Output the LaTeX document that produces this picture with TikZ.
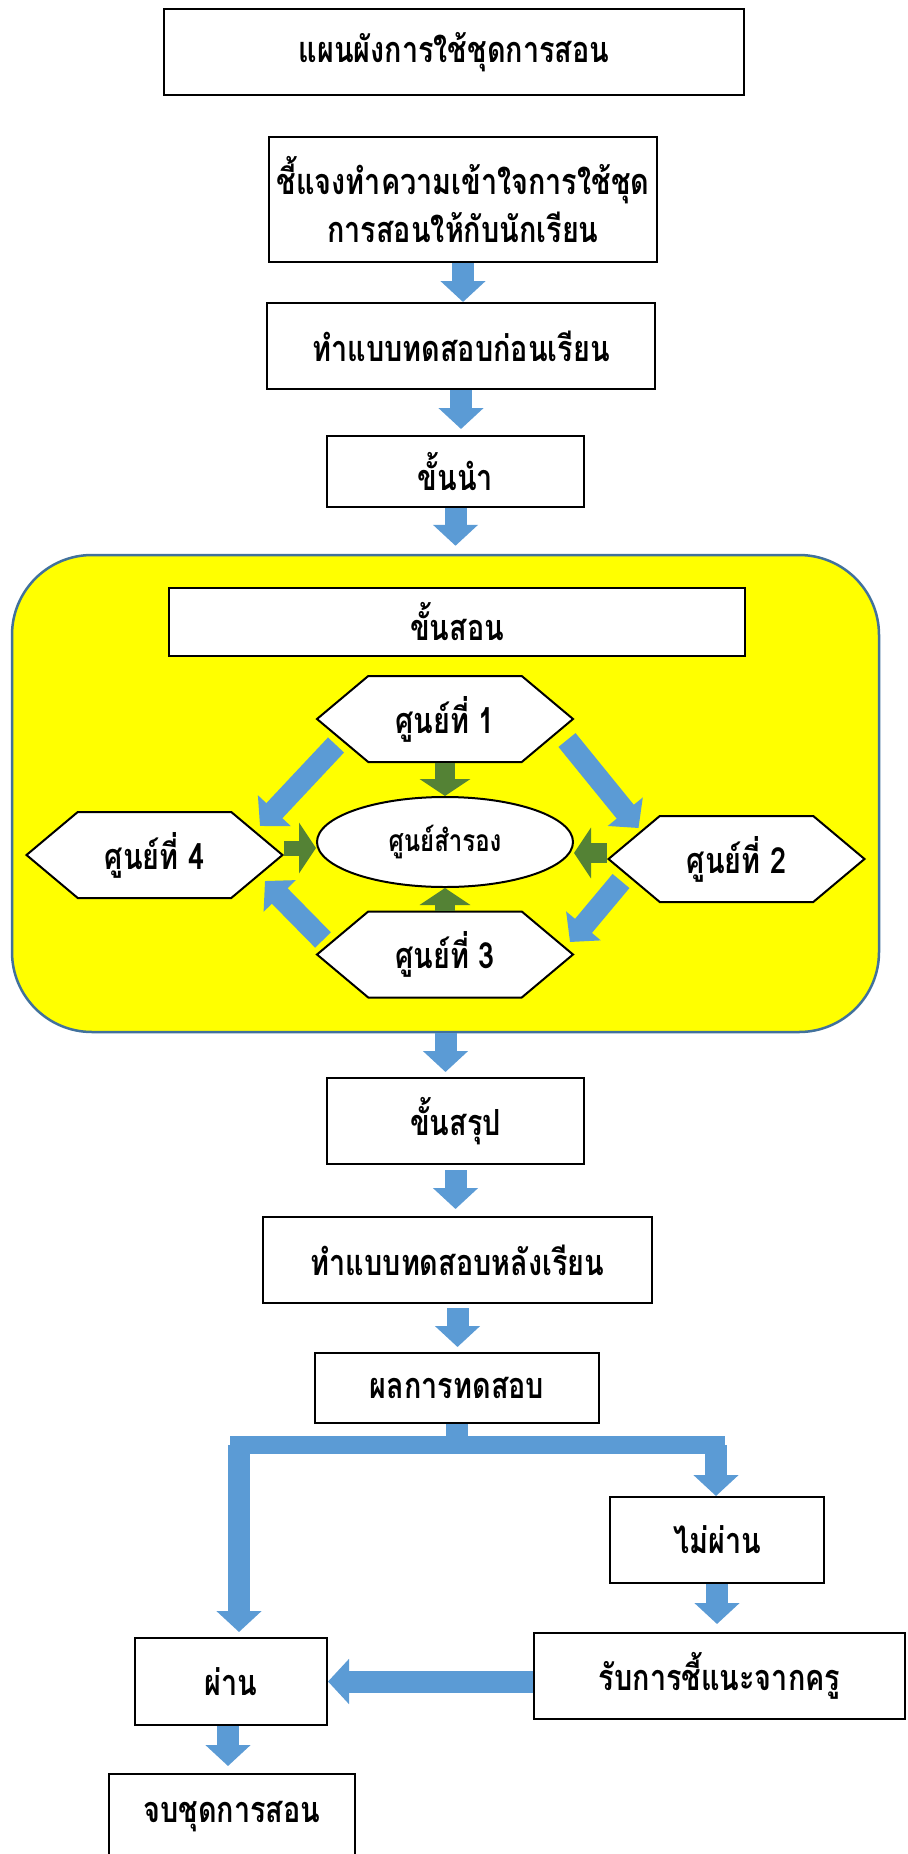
\documentclass[tikz,border=0pt]{standalone}
\usepackage{fontspec}
\newfontfamily\thaifont[Script=Thai,FakeStretch=0.8]{Loma}
\usetikzlibrary{arrows.meta,shapes.geometric,shapes.symbols}
\definecolor{flowblue}{HTML}{5B9BD5}
\definecolor{hubgreen}{HTML}{548235}
\definecolor{framecol}{HTML}{41719C}
\definecolor{frameyellow}{HTML}{FFFF00}
\begin{document}
\begin{tikzpicture}[x=1pt,y=-1pt,
    stepbox/.style={draw=black, line width=2pt, fill=white, inner sep=0pt, align=center,
      font=\thaifont\bfseries\fontsize{36}{48}\selectfont},
    hub/.style={signal, signal to=west and east, signal pointer angle=80, draw=black,
      line width=2pt, fill=white, inner sep=0pt, minimum width=256pt, minimum height=86pt,
      font=\thaifont\bfseries\fontsize{36}{40}\selectfont},
    flowarrow/.style={draw=flowblue, line width=22pt, -{Triangle[width=44pt,length=21pt]}},
    hubarrow/.style={draw=hubgreen, line width=20pt, -{Triangle[width=50pt,length=17pt]}}]
    \useasboundingbox (0,0) rectangle (907,1854);
    \fill[white] (0,0) rectangle (907,1854);
    \clip (0,0) rectangle (907,1854);
    % yellow frame of the teaching step
    \node[draw=framecol, line width=2.5pt, fill=frameyellow, rounded corners=80pt,
      minimum width=867pt, minimum height=477pt] (teach) at (445.5,793.5) {};
    % main column
    \node[stepbox, minimum width=580pt, minimum height=86pt] (title) at (454,52) {แผนผังการใช้ชุดการสอน};
    \node[stepbox, minimum width=388pt, minimum height=125pt] (explain) at (463,199.5) {ชี้แจงทำความเข้าใจการใช้ชุด\\การสอนให้กับนักเรียน};
    \node[stepbox, minimum width=388pt, minimum height=86pt] (pretest) at (461,346) {ทำแบบทดสอบก่อนเรียน};
    \node[stepbox, minimum width=257pt, minimum height=71pt] (intro) at (455.5,471.5) {ขั้นนำ};
    \node[stepbox, minimum width=576pt, minimum height=68pt] (teachlabel) at (457,622) {ขั้นสอน};
    % centres
    \node[hub] (hub1) at (445,719) {ศูนย์ที่ 1};
    \node[hub] (hub2) at (736.5,859) {ศูนย์ที่ 2};
    \node[hub] (hub3) at (445,954.5) {ศูนย์ที่ 3};
    \node[hub] (hub4) at (154.5,855) {ศูนย์ที่ 4};
    \node[ellipse, draw=black, line width=2pt, fill=white, inner sep=0pt, minimum width=256pt,
      minimum height=90pt, font=\thaifont\bfseries\fontsize{30}{34}\selectfont] (spare) at (445,842) {ศูนย์สำรอง};
    \draw[flowarrow] ([shift={(-109,26)}]hub1.center) -- ([shift={(105.5,-29)}]hub4.center);
    \draw[flowarrow] ([shift={(122,21)}]hub1.center) -- ([shift={(-98,-31)}]hub2.center);
    \draw[flowarrow] ([shift={(-115.5,22)}]hub2.center) -- ([shift={(125,-12.5)}]hub3.center);
    \draw[flowarrow] ([shift={(-122,-14.5)}]hub3.center) -- ([shift={(110.5,26)}]hub4.center);
    \draw[hubarrow] (hub1.south) -- (spare.north);
    \draw[hubarrow] (hub3.north) -- (spare.south);
    \coordinate (l4) at ([shift={(0,-7)}]hub4.east);
    \coordinate (r2) at ([shift={(0,-6)}]hub2.west);
    \draw[hubarrow, line width=15pt] (l4) -- (l4 -| spare.west);
    \draw[hubarrow] (r2) -- (r2 -| spare.east);
    % after the frame
    \node[stepbox, minimum width=257pt, minimum height=86pt] (sum) at (455.5,1121) {ขั้นสรุป};
    \node[stepbox, minimum width=389pt, minimum height=86pt] (posttest) at (457.5,1260) {ทำแบบทดสอบหลังเรียน};
    \node[stepbox, minimum width=284pt, minimum height=70pt] (result) at (457,1388) {ผลการทดสอบ};
    \node[stepbox, minimum width=214pt, minimum height=86pt] (fail) at (717,1540) {ไม่ผ่าน};
    \node[stepbox, minimum width=371pt, minimum height=86pt] (advice) at (719.5,1676) {รับการชี้แนะจากครู};
    \node[stepbox, minimum width=192pt, minimum height=87pt] (pass) at (231,1681.5) {ผ่าน};
    \node[stepbox, minimum width=246pt, minimum height=86pt] (finish) at (232,1817) {จบชุดการสอน};
    % arrows of the main column
    \draw[flowarrow] (explain.south) -- (explain.south |- pretest.north);
    \draw[flowarrow, shorten >=6pt] (pretest.south) -- (pretest.south |- intro.north);
    \draw[flowarrow, shorten >=8pt] (intro.south) -- (intro.south |- teach.north);
    \draw[flowarrow, shorten >=5pt] (teach.south) -- (teach.south |- sum.north);
    \draw[flowarrow, shorten <=5pt, shorten >=7pt] (sum.south) -- (sum.south |- posttest.north);
    \draw[flowarrow, shorten <=4pt, shorten >=5pt] (posttest.south) -- (posttest.south |- result.north);
    % split after the result
    \coordinate (barL) at (239,1445);
    \coordinate (barR) at (716,1445);
    \draw[flowblue, line width=22pt] (result.south) -- (result.south |- barL);
    \draw[flowblue, line width=18pt, line cap=rect] (barL) -- (barR);
    \draw[flowarrow, shorten >=5pt] (barL) -- (barL |- pass.north);
    \draw[flowarrow] (barR) -- (barR |- fail.north);
    \draw[flowarrow, shorten >=8pt] (fail.south) -- (fail.south |- advice.north);
    \draw[flowarrow] (advice.west |- pass.east) -- (pass.east);
    \draw[flowarrow, shorten >=7pt] ([xshift=-3pt]pass.south) -- ([xshift=-3pt]pass.south |- finish.north);
\end{tikzpicture}
\end{document}
